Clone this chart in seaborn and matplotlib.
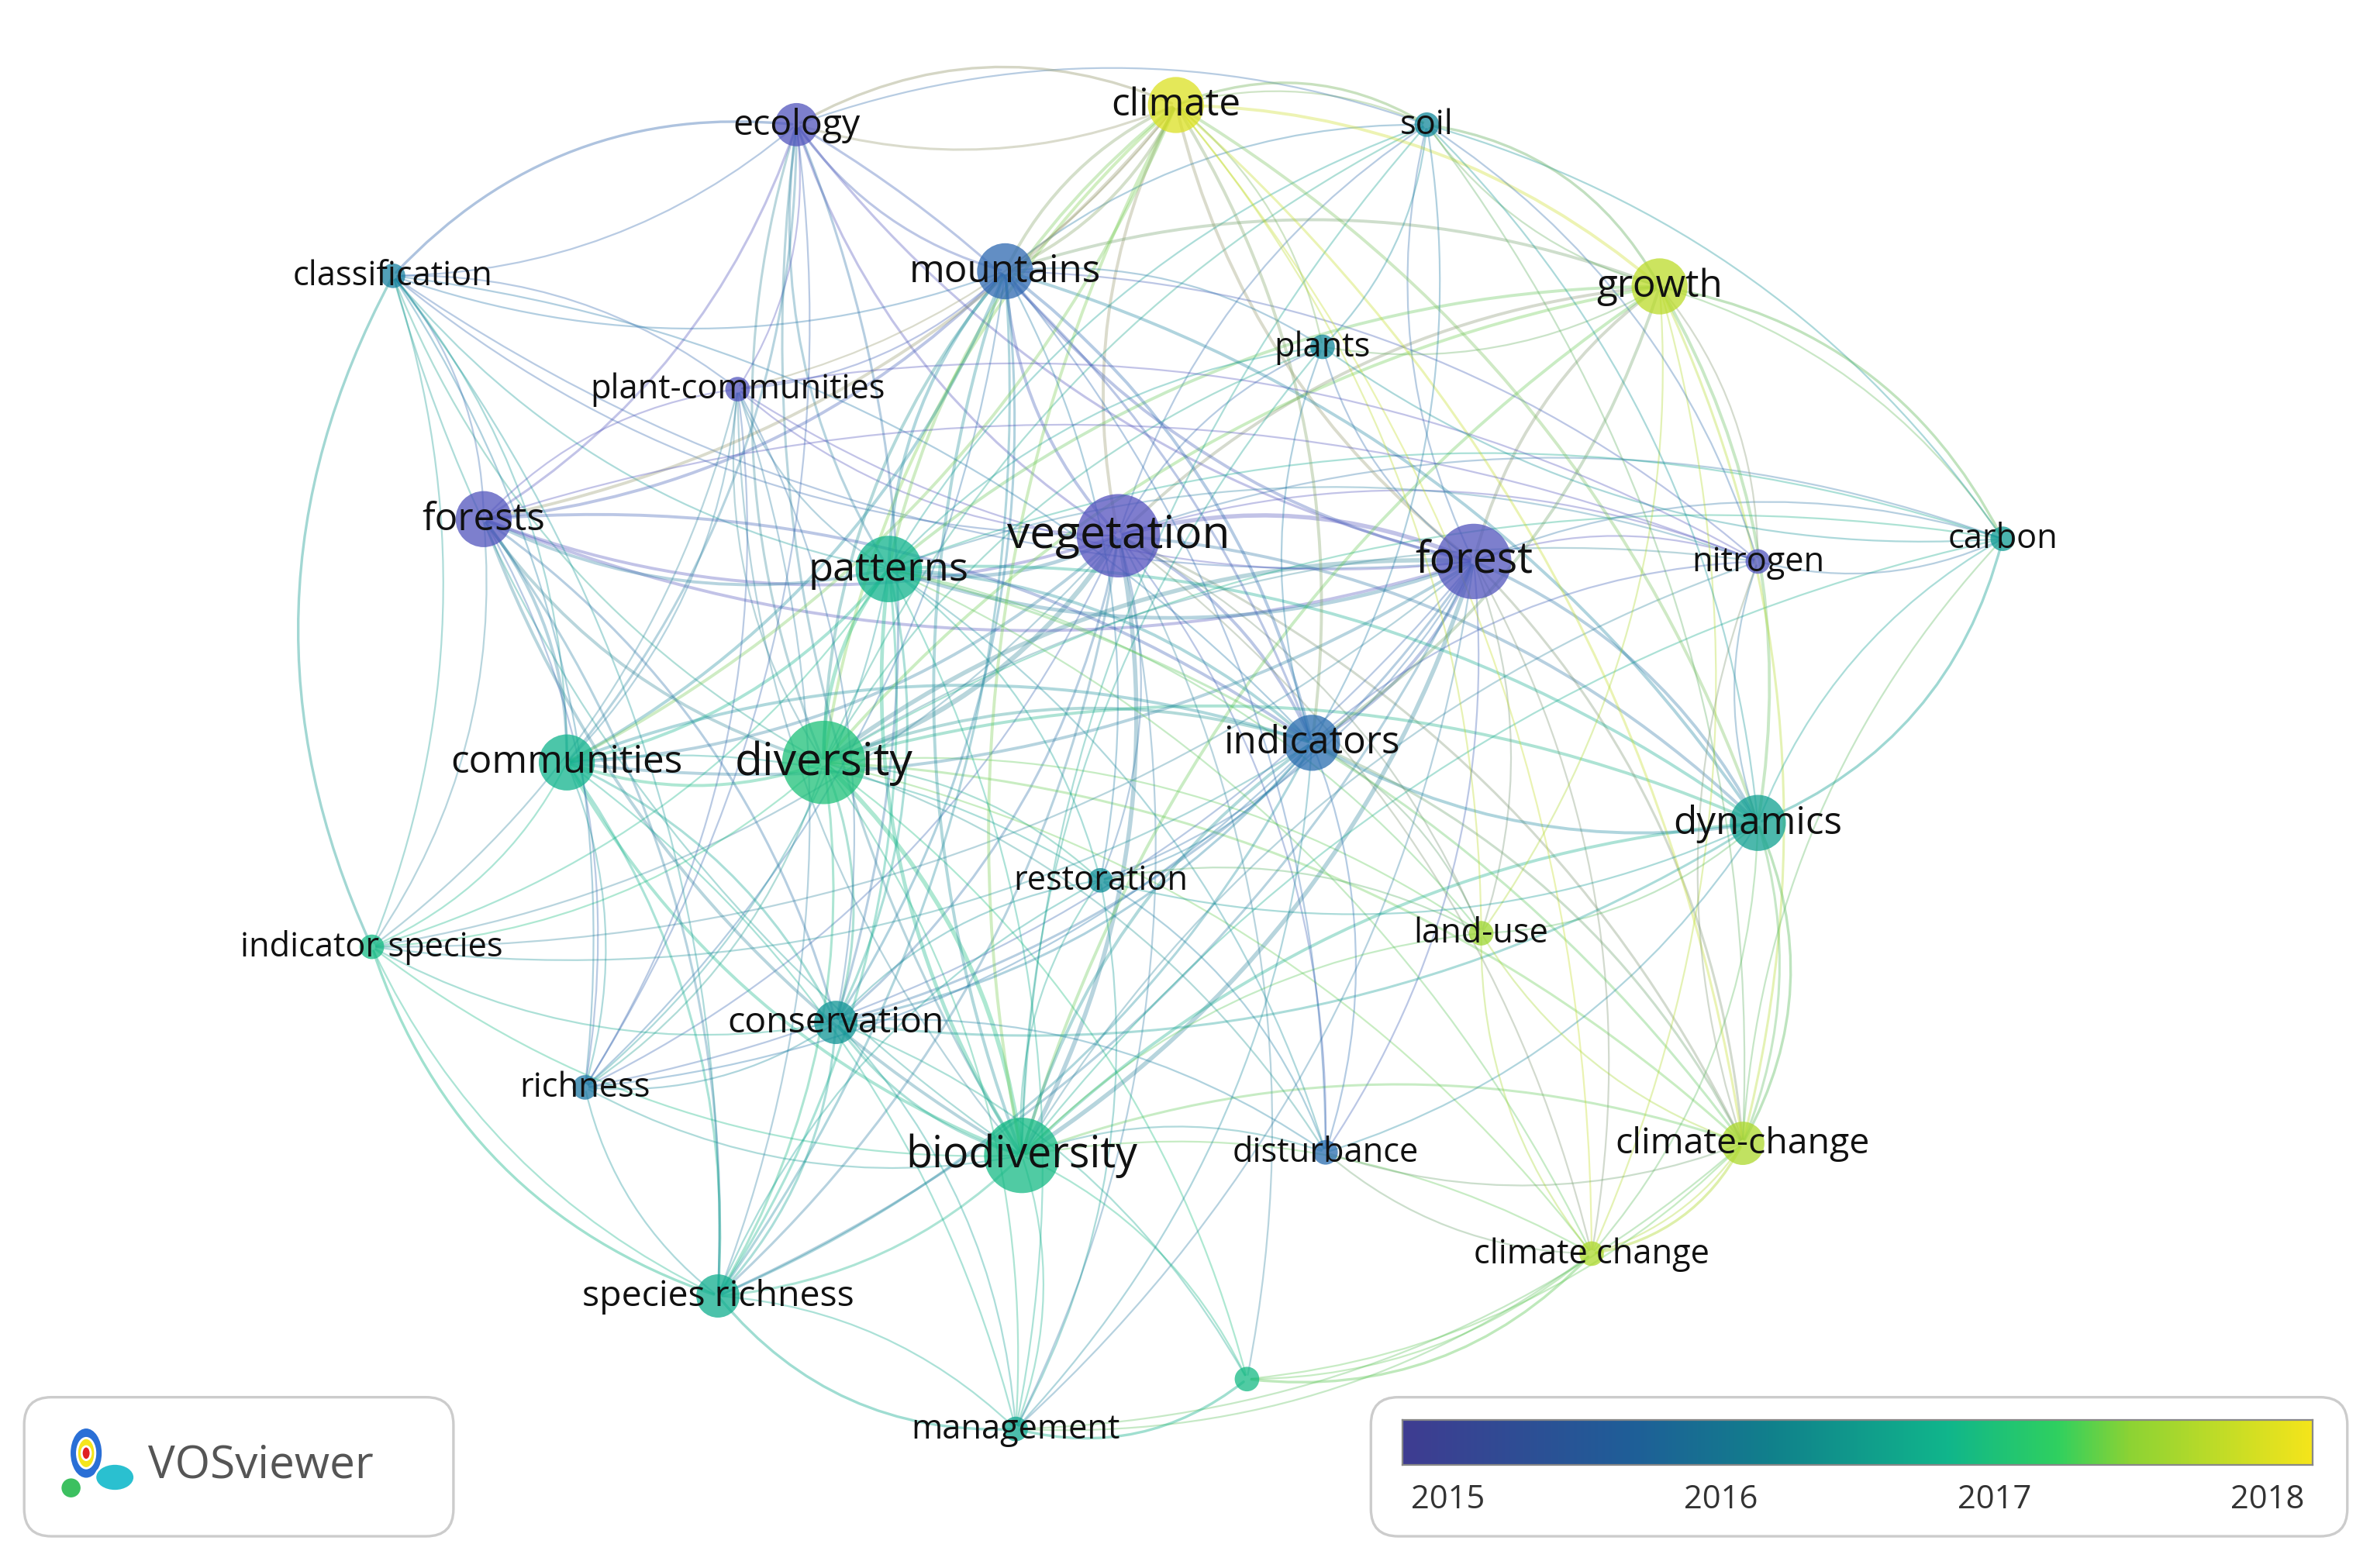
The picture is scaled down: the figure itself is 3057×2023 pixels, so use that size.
import numpy as np
import pandas as pd
import seaborn as sns
import matplotlib.pyplot as plt
from matplotlib.colors import LinearSegmentedColormap, Normalize, to_rgb
from matplotlib.patches import FancyArrowPatch, FancyBboxPatch, Ellipse

# === node data (positions, image pixel space) ===
labels = ["ecology", "climate", "soil", "classification", "mountains", "growth", "plants",
          "plant-communities", "forests", "vegetation", "patterns", "forest", "nitrogen", "carbon",
          "communities", "diversity", "indicators", "dynamics", "restoration", "land-use",
          "indicator species", "conservation", "richness", "biodiversity", "disturbance",
          "climate-change", "climate change", "species richness", "", "management"]
keys = ["eco", "cli", "soil", "cla", "mou", "gro", "pla", "pc", "frs", "veg", "pat", "for", "nit", "car",
        "com", "div", "ind", "dyn", "res", "lu", "isp", "con", "ric", "bio", "dis", "cc", "ccs", "sr", "unl", "man"]
xs = [527, 778, 944, 260, 665, 1098, 875, 488, 320, 740, 588, 975, 1163, 1325,
      375, 545, 868, 1163, 728, 980, 246, 553, 387, 676, 877, 1153, 1053, 475, 825, 672]
ys = [83, 70, 83, 183, 180, 190, 230, 258, 344, 355, 377, 372, 372, 357,
      505, 505, 492, 545, 583, 618, 627, 677, 720, 765, 763, 757, 830, 858, 913, 946]
weights = [2, 3, 1, 1, 3, 3, 1, 1, 3, 6, 4, 5, 1, 1, 3, 6, 3, 3, 1, 1, 1, 2, 1, 5, 1, 2, 1, 2, 1, 1]
years = [2015.0, 2018.0, 2016.1, 2016.0, 2015.6, 2017.8, 2016.1, 2015.0, 2015.0, 2014.95, 2016.8,
         2015.0, 2015.0, 2016.4, 2016.8, 2017.0, 2015.7, 2016.5, 2016.2, 2017.6, 2016.9, 2016.3,
         2015.9, 2016.9, 2015.7, 2017.7, 2017.7, 2016.7, 2016.9, 2016.6]

# === links (hub : neighbours) ===
links = {
    "veg": "eco cli soil cla mou gro pla pc frs pat for nit car com div ind dyn res lu isp con ric bio dis cc ccs sr man unl",
    "div": "eco cli soil cla mou gro pla pc frs pat for nit car com ind dyn res lu isp con ric bio dis cc ccs sr man unl",
    "for": "eco cli soil cla mou gro pla pc frs pat nit car com ind dyn res lu isp con ric bio dis cc ccs sr man",
    "bio": "eco cli soil cla mou gro pla pc frs pat nit car com ind dyn res lu isp con ric dis cc ccs sr man unl",
    "pat": "eco cli soil cla mou gro pla pc frs nit car com ind dyn res lu isp con ric dis cc ccs sr man",
    "mou": "eco cli soil cla gro pla pc frs com ind dyn res con ric dis sr nit",
    "cli": "eco soil gro pla pc frs com ind dyn lu cc ccs mou",
    "eco": "soil cla pc frs com ind con ric",
    "cla": "pc frs com isp ric sr ind",
    "frs": "pc com isp ric sr con ind nit",
    "pc": "com isp ric con sr nit",
    "gro": "soil pla nit car dyn lu cc ccs ind",
    "soil": "pla nit car dyn ind cc",
    "com": "isp con ric sr ind res man",
    "dyn": "nit car lu cc ccs dis ind res con",
    "ind": "pla nit res lu con dis isp ric sr man cc",
    "con": "isp ric sr res man dis unl",
    "cc": "ccs car lu dis nit man unl",
    "ccs": "lu dis man unl",
    "sr": "isp ric man res",
    "car": "nit pla",
    "res": "lu dis man",
}

nodes = pd.DataFrame({"key": keys, "label": labels, "x": xs, "y": ys, "w": weights, "year": years})
pos = {k: (x, y) for k, x, y in zip(keys, xs, ys)}
yr = dict(zip(keys, years))
wt = dict(zip(keys, weights))

cmap = LinearSegmentedColormap.from_list("vos", [
    (0.0, "#3f3c91"), (0.25, "#1f5e98"), (0.4, "#117f8c"), (0.6, "#10b68b"),
    (0.72, "#2fd060"), (0.8, "#8cd334"), (1.0, "#f5e51b")])
norm = Normalize(2014.835, 2018.165)

# purple tint used by VOSviewer for the oldest items
node_cmap = LinearSegmentedColormap.from_list("vosn", [
    (0.0, "#5a4fc0"), (0.25, "#2a6ab0"), (0.4, "#0f8c98"), (0.6, "#10b68b"),
    (0.72, "#2fd060"), (0.8, "#8cd334"), (1.0, "#f5e51b")])

sns.set_style("white")
plt.rcParams["font.family"] = ["Open Sans", "DejaVu Sans"]

fig = plt.figure(figsize=(15.285, 10.12), dpi=200)
ax = fig.add_axes([0, 0, 1, 1])


def mix(a, b):
    return (np.array(to_rgb(node_cmap(norm(yr[a])))) + np.array(to_rgb(node_cmap(norm(yr[b]))))) / 2


# edges
for a, nbrs in links.items():
    for b in nbrs.split():
        lw = 0.5 + 0.3 * min(wt[a], wt[b])
        ax.add_patch(FancyArrowPatch(pos[a], pos[b], connectionstyle="arc3,rad=-0.18", arrowstyle="-",
                                     color=mix(a, b), alpha=0.35, lw=lw, zorder=1))

# outer arcs along the periphery
ring = ["cla", "eco", "cli", "soil", "gro", "car", "dyn", "cc", "ccs", "unl", "man", "sr", "isp", "cla"]
for a, b in zip(ring[:-1], ring[1:]):
    ax.add_patch(FancyArrowPatch(pos[a], pos[b], connectionstyle="arc3,rad=-0.25", arrowstyle="-",
                                 color=mix(a, b), alpha=0.4, lw=1.2, zorder=1))

# nodes
sns.scatterplot(data=nodes, x="x", y="y", size="w", sizes=(130, 1500), hue="year",
                palette=node_cmap, hue_norm=norm, alpha=0.75, edgecolor="none", legend=False, ax=ax, zorder=3)
ax.set_xlim(0, 1568)
ax.set_ylim(1038, 0)
ax.axis("off")

for _, r in nodes.iterrows():
    if r["label"]:
        fs = 14.5 + 1.1 * r["w"]
        ax.text(r["x"], r["y"], r["label"], fontsize=fs, ha="center", va="center",
                color="#111111", zorder=4)

# logo box
ax.add_patch(FancyBboxPatch((16, 925), 284, 92, boxstyle="round,pad=0,rounding_size=18",
                            fc="white", ec="#cccccc", lw=1.2, zorder=5))
ax.add_patch(Ellipse((57, 962), 22, 34, fc="#2a6fd6", zorder=6))
ax.add_patch(Ellipse((57, 962), 12, 20, fc="#f5e51b", zorder=6))
ax.add_patch(Ellipse((57, 962), 6, 9, fc="#e02020", zorder=6))
ax.add_patch(Ellipse((76, 978), 26, 18, fc="#2ac0d0", zorder=6))
ax.add_patch(Ellipse((47, 985), 14, 14, fc="#3cc060", zorder=6))
ax.text(98, 970, "VOSviewer", fontsize=21, color="#555555", va="center", ha="left", zorder=6)

# colour legend box
ax.add_patch(FancyBboxPatch((907, 925), 646, 92, boxstyle="round,pad=0,rounding_size=18",
                            fc="white", ec="#cccccc", lw=1.2, zorder=5))
cax = fig.add_axes([928 / 1568, (1038 - 970) / 1038, 602 / 1568, 30 / 1038])
grad = np.linspace(norm.vmin, norm.vmax, 512)[None, :]
cax.imshow(grad, aspect="auto", cmap=cmap, norm=norm, extent=(norm.vmin, norm.vmax, 0, 1))
cax.set_yticks([])
cax.set_xticks([2015, 2016, 2017, 2018])
cax.tick_params(axis="x", direction="in", length=12, width=1.2, color="#777777",
                labelsize=15, labelcolor="#333333", pad=8)
for s in cax.spines.values():
    s.set_color("#888888")

fig.savefig("out.png", dpi=200)
